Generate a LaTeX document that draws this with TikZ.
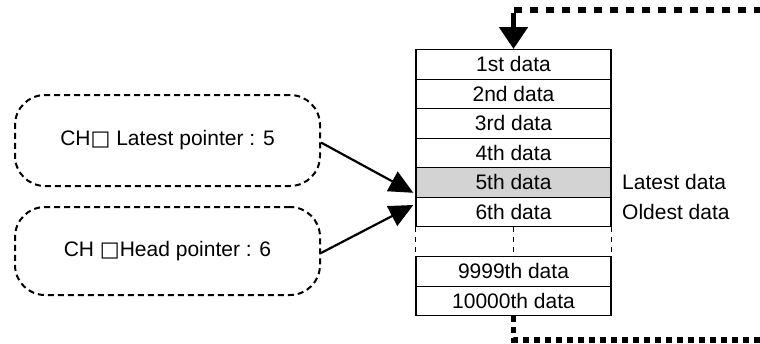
\documentclass[tikz,border=0pt]{standalone}
\usepackage{fontspec}
\setmainfont{Liberation Sans}
\newfontfamily\symfont{DejaVu Sans}
\usetikzlibrary{arrows.meta,calc}
\begin{document}
\begin{tikzpicture}[x=1pt,y=-1pt,
  every node/.style={font=\fontsize{21}{25}\selectfont},
  cell/.style={draw,line width=1.3pt,minimum width=195pt,minimum height=29.5pt,inner sep=0pt,anchor=north},
  ptrbox/.style={draw,line width=2pt,dash pattern=on 6pt off 4pt,rounded corners=30pt,minimum width=305pt,inner sep=0pt},
  thickdash/.style={line width=5.5pt,dash pattern=on 8pt off 8pt},
  gapline/.style={line width=1pt,dash pattern=on 5pt off 5pt},
  ptrarrow/.style={line width=2.2pt,-{Triangle[length=24pt,width=22pt]}}]
\useasboundingbox (0,0) rectangle (760,343);
% table
\node[cell] (r1) at (513.5,49) {1st data};
\node[cell] (r2) at (513.5,78.5) {2nd data};
\node[cell] (r3) at (513.5,108) {3rd data};
\node[cell] (r4) at (513.5,137.5) {4th data};
\node[cell,fill={rgb,255:red,211;green,211;blue,211}] (r5) at (513.5,167) {5th data};
\node[cell] (r6) at (513.5,196.5) {6th data};
\node[cell] (r9) at (513.5,256) {9999th data};
\node[cell] (r10) at (513.5,285.5) {10000th data};
% gap dividers
\draw[gapline] (r6.south west) -- (r9.north west);
\draw[gapline] (r6.south) -- (r9.north);
\draw[gapline] (r6.south east) -- (r9.north east);
% labels
\node[anchor=west,inner sep=0pt] (lat) at (622,182) {Latest data};
\node[anchor=west,inner sep=0pt] (old) at (622,212) {Oldest data};
% pointer boxes
\node[ptrbox,minimum height=91pt] (b1) at (167.5,140.5) {CH{\symfont □} Latest pointer : 5};
\node[ptrbox,minimum height=88pt] (b2) at (167.5,251) {CH {\symfont □}Head pointer : 6};
\coordinate (t1) at ($(r5.south west)+(-2,-5)$);
\coordinate (t2) at ($(r6.north west)+(-2,8.5)$);
\draw[ptrarrow] ($(b1.east)+(0,2)$) -- (t1);
\draw[ptrarrow] ($(b2.east)+(0,2)$) -- (t2);
% loop lines
\coordinate (topR) at (760,10);
\coordinate (topL) at (513.5,10);
\coordinate (botL) at (513.5,340);
\coordinate (botR) at (760,340);
\draw[thickdash] (topL) -- (topR);
\draw[line width=5pt,-{Triangle[length=22pt,width=28pt]}] (513.5,12.5) -- (r1.north);
\draw[line width=5.5pt,dash pattern=on 6pt off 5pt] (r10.south) -- (botL) -- (botR);
\end{tikzpicture}
\end{document}
